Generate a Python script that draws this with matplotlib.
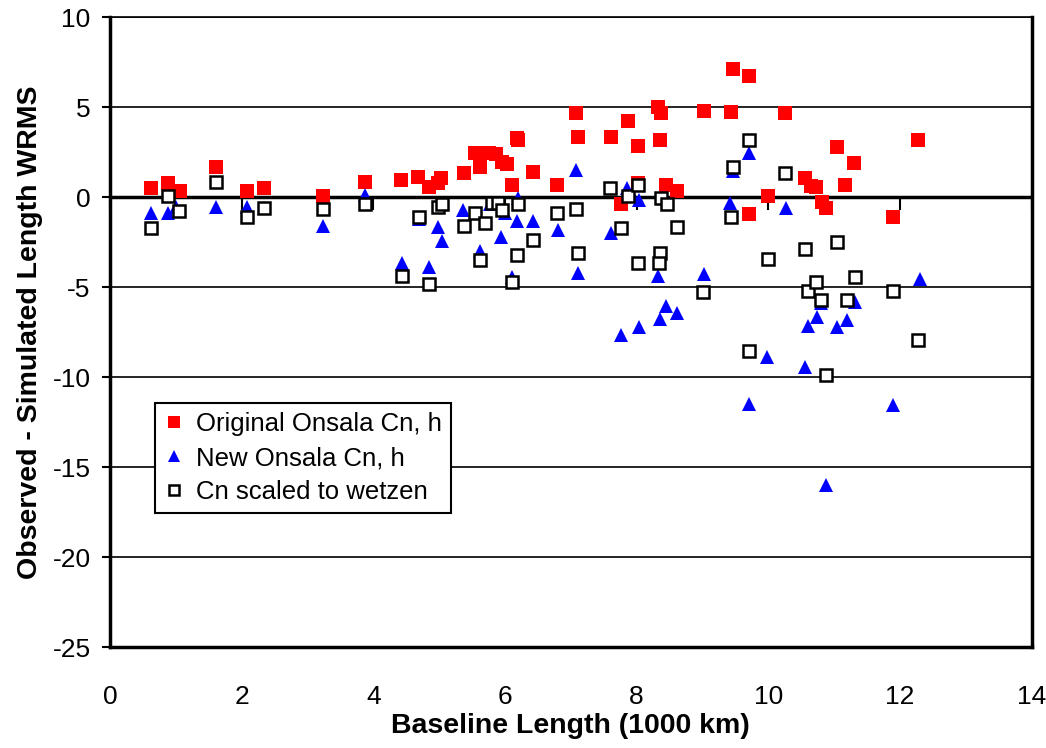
import matplotlib
matplotlib.use('Agg')
import matplotlib.pyplot as plt

# Original Onsala Cn, h
orig_x = [0.62, 0.88, 1.07, 1.61, 2.08, 2.34, 3.24, 3.87, 4.42, 4.68, 4.84, 4.98, 5.03, 5.37,
          5.54, 5.62, 5.75, 5.86, 5.95, 6.03, 6.10, 6.18, 6.20, 6.42, 6.79, 7.08, 7.11, 7.61,
          7.76, 7.87, 8.02, 8.02, 8.33, 8.37, 8.35, 8.45, 8.61, 9.02, 9.44, 9.47, 9.71, 9.71,
          10.0, 10.26, 10.56, 10.65, 10.73, 10.82, 10.88, 11.05, 11.17, 11.30, 11.90, 12.28]
orig_y = [0.5, 0.78, 0.33, 1.67, 0.33, 0.5, 0.05, 0.83, 0.94, 1.1, 0.55, 0.78, 1.05, 1.33,
          2.44, 1.67, 2.44, 2.4, 1.94, 1.83, 0.67, 3.28, 3.17, 1.39, 0.67, 4.67, 3.33, 3.33,
          -0.36, 4.22, 2.86, 0.8, 5.0, 4.67, 3.17, 0.67, 0.36, 4.78, 4.72, 7.11, 6.72, -0.94,
          0.06, 4.67, 1.06, 0.6, 0.55, -0.28, -0.61, 2.78, 0.67, 1.89, -1.11, 3.17]

# New Onsala Cn, h
new_x = [0.62, 0.88, 1.0, 1.61, 2.08, 2.34, 3.24, 3.87, 4.43, 4.69, 4.84, 4.98, 5.04, 5.36,
         5.54, 5.62, 5.78, 5.94, 6.0, 6.2, 6.18, 6.10, 6.42, 6.81, 7.08, 7.11, 7.61, 7.85,
         7.93, 8.04, 8.32, 8.38, 8.45, 8.61, 8.36, 8.04, 7.76, 9.02, 9.42, 9.47, 9.71, 9.71,
         9.98, 10.27, 10.56, 10.61, 10.74, 10.8, 10.88, 11.05, 11.19, 11.31, 11.9, 12.3]
new_y = [-0.9, -0.9, -0.55, -0.56, -0.55, -0.6, -1.6, 0.1, -3.67, -1.2, -3.9, -1.67, -2.44, -0.72,
         -0.9, -3.0, -0.39, -2.2, -0.9, -0.05, -1.33, -4.44, -1.33, -1.83, 1.5, -4.22, -2.0, 0.5,
         0.1, -0.17, -4.39, -0.06, -6.05, -6.44, -6.78, -7.22, -7.67, -4.28, -0.33, 1.44, 2.44, -11.5,
         -8.89, -0.61, -9.44, -7.17, -6.67, -5.9, -16.0, -7.22, -6.83, -5.83, -11.56, -4.55]

# Cn scaled to wetzen
wet_x = [0.62, 0.88, 1.05, 1.61, 2.08, 2.34, 3.24, 3.87, 4.43, 4.69, 4.84, 4.98, 5.04, 5.37,
         5.54, 5.62, 5.70, 5.8, 5.9, 5.95, 6.18, 6.10, 6.2, 6.42, 6.79, 7.08, 7.11, 7.6,
         7.76, 7.87, 8.02, 8.02, 8.36, 8.34, 8.37, 8.46, 8.61, 9.01, 9.44, 9.47, 9.71, 9.71,
         10.0, 10.26, 10.56, 10.61, 10.73, 10.8, 10.87, 11.05, 11.19, 11.32, 11.9, 12.28]
wet_y = [-1.72, 0.06, -0.78, 0.83, -1.1, -0.6, -0.67, -0.39, -4.39, -1.1, -4.83, -0.55, -0.39, -1.6,
         -0.9, -3.5, -1.44, -0.33, -0.33, -0.72, -3.22, -4.72, -0.39, -2.39, -0.89, -0.67, -3.11, 0.5,
         -1.72, 0.06, 0.67, -3.67, -3.11, -3.67, -0.06, -0.39, -1.67, -5.28, -1.1, 1.67, 3.17, -8.55,
         -3.44, 1.33, -2.89, -5.22, -4.72, -5.72, -9.89, -2.5, -5.72, -4.44, -5.22, -7.94]

xticks = [0, 2, 4, 6, 8, 10, 12, 14]
yticks = [-25, -20, -15, -10, -5, 0, 5, 10]

plt.rcParams['font.family'] = ['Liberation Sans', 'DejaVu Sans']

fig = plt.figure(figsize=(10.46, 7.48), dpi=100)
ax = fig.add_axes([0.1052, 0.135, 0.881, 0.842])

for y in yticks:
    if y not in (0, -25):
        ax.axhline(y, color='black', lw=1.2, zorder=1)
ax.axhline(0, color='black', lw=2.5, zorder=1)

ax.plot(orig_x, orig_y, 's', color='#ff0000', markersize=10, markeredgewidth=0,
        label='Original Onsala Cn, h', zorder=3)
ax.plot(new_x, new_y, '^', color='#0000ff', markersize=10.5, markeredgewidth=0,
        label='New Onsala Cn, h', zorder=4)
ax.plot(wet_x, wet_y, 's', markerfacecolor='white', markeredgecolor='black', markersize=8.5,
        markeredgewidth=1.8, label='Cn scaled to wetzen', zorder=5)

ax.set_xlim(0, 14)
ax.set_ylim(-25, 10)
ax.set_xticks(xticks)
ax.set_yticks(yticks)
ax.set_xticklabels([str(t) for t in xticks],
                   fontfamily=['Liberation Sans Narrow', 'Liberation Sans'], fontsize=19)
ax.set_yticklabels([str(t) for t in yticks], fontsize=19)
ax.tick_params(axis='x', length=0, pad=27)
ax.tick_params(axis='y', direction='out', length=6, width=1.5, pad=8)

# x ticks sit on the zero line
sec = ax.secondary_xaxis(25 / 35)
sec.set_xticks(xticks)
sec.tick_params(axis='x', direction='out', length=9, width=1.5, labelbottom=False,
                labeltop=False, bottom=True, top=False)
sec.spines['bottom'].set_visible(False)
sec.spines['top'].set_visible(False)

for side in ('left', 'bottom', 'right'):
    ax.spines[side].set_linewidth(2.5)
ax.spines['top'].set_linewidth(1.2)

ax.set_xlabel('Baseline Length (1000 km)', fontsize=20.5, fontweight='bold', labelpad=3)
ax.set_ylabel('Observed - Simulated Length WRMS', fontsize=20.5, fontweight='bold', labelpad=7)

leg = ax.legend(loc='upper left', bbox_to_anchor=(0.049, 0.387), borderaxespad=0,
                fontsize=18.5, frameon=True, fancybox=False, framealpha=1, edgecolor='black',
                handlelength=0.8, handletextpad=0.45, borderpad=0.35, labelspacing=0.38,
                markerscale=0.8)
leg.get_frame().set_linewidth(1.5)

fig.savefig('out.png', dpi=100)
